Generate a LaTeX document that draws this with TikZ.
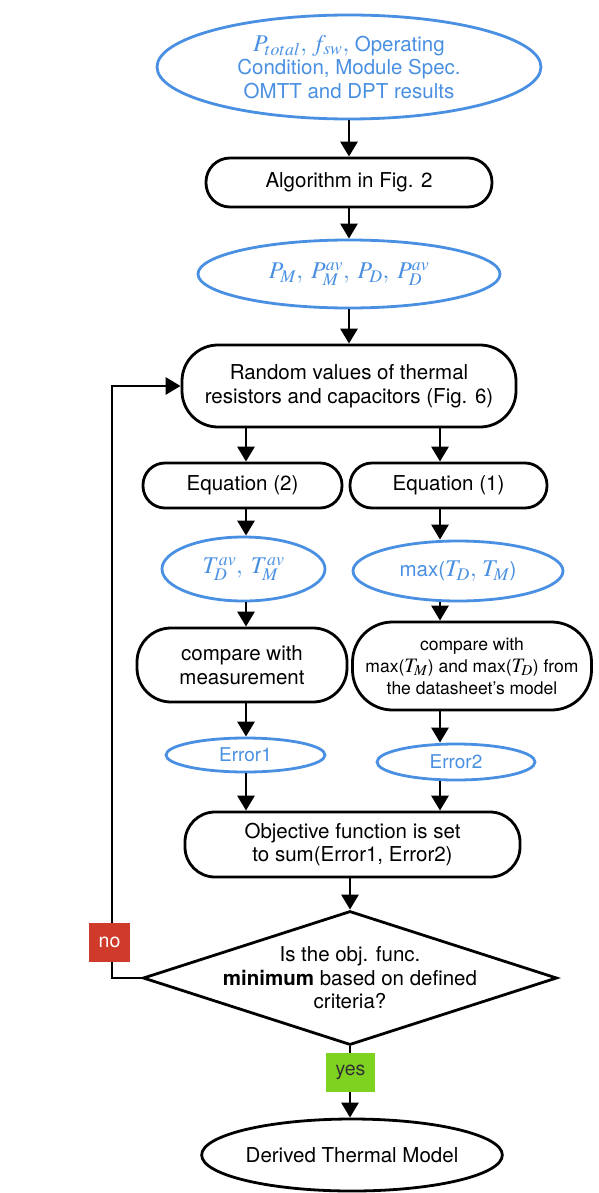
\documentclass[tikz,border=0pt]{standalone}
\usepackage{mathptmx}
\usepackage[no-math]{fontspec}
\setmainfont{TeX Gyre Heros}
\usetikzlibrary{shapes.geometric,arrows.meta}
\definecolor{flowblue}{RGB}{74,144,226}
\definecolor{noRed}{RGB}{208,58,42}
\definecolor{yesGreen}{RGB}{126,211,33}
\newcommand{\bigmath}[2][24]{{\fontsize{#1}{#1}\selectfont$#2$}}

\begin{document}
\begin{tikzpicture}[x=1pt,y=-1pt,line width=2.8pt,
  font=\fontsize{20.5}{23.5}\selectfont,
  io/.style={ellipse,draw=flowblue,text=flowblue,inner sep=0pt,align=center},
  proc/.style={draw,rounded corners=#1,inner sep=0pt,align=center},
  arr/.style={-{Triangle[length=15pt,width=17pt]}},
  tag/.style={inner sep=0pt,minimum height=39pt,font=\fontsize{19.5}{22}\selectfont}]
\useasboundingbox (0,0) rectangle (598,1193);

% inputs and first steps
\node[io,minimum width=384pt,minimum height=104pt] (inp) at (349,67)
  {\bigmath{P_{total},\, f_{sw},} Operating\\Condition, Module Spec.\\OMTT and DPT results};
\node[proc=24pt,minimum width=286pt,minimum height=49pt] (alg) at (349,182.5) {Algorithm in Fig. 2};
\node[io,minimum width=302pt,minimum height=68pt] (pow) at (349,274)
  {\bigmath{P_M,\; P_M^{av},\; P_D,\; P_D^{av}}};
\node[proc=36pt,minimum width=334pt,minimum height=82pt] (rand) at (349,386)
  {Random values of thermal\\resistors and capacitors (Fig. 6)};

% two branches
\node[proc=22pt,minimum width=199pt,minimum height=45pt] (eq2) at (242.5,485.5) {Equation (2)};
\node[proc=22pt,minimum width=197pt,minimum height=45pt] (eq1) at (448.5,485.5) {Equation (1)};
\node[io,minimum width=163pt,minimum height=64pt] (tav) at (243.5,569) {\bigmath{T_D^{av},\; T_M^{av}}};
\node[io,minimum width=210pt,minimum height=60pt] (tmax) at (458,571) {max(\bigmath{T_D,\, T_M})};
\node[proc=34pt,minimum width=210pt,minimum height=74pt] (cmp2) at (242,665) {compare with\\measurement};
\node[proc=40pt,minimum width=239pt,minimum height=88pt,font=\fontsize{17.5}{22}\selectfont] (cmp1) at (472,666)
  {compare with\\max(\bigmath[20.5]{T_M}) and max(\bigmath[20.5]{T_D}) from\\the datasheet's model};
\node[io,minimum width=159pt,minimum height=34pt,font=\fontsize{19}{22}\selectfont] (err1) at (245.5,755) {Error1};
\node[io,minimum width=158pt,minimum height=36pt,font=\fontsize{19}{22}\selectfont] (err2) at (456,762) {Error2};

% decision
\node[proc=30pt,minimum width=335pt,minimum height=65pt] (obj) at (352.5,844.5)
  {Objective function is set\\to sum(Error1, Error2)};
\node[diamond,draw,minimum width=414pt,minimum height=134pt,inner sep=0pt] (dec) at (350,978) {};
\node[align=center] (dectxt) at (dec.center) {Is the obj. func.\\\textbf{minimum} based on defined\\criteria?};
\node[ellipse,draw,minimum width=300pt,minimum height=72pt,inner sep=0pt] (out) at (352,1155) {Derived Thermal Model};

\coordinate (lx) at (246,0);
\coordinate (rx) at (440,0);
\coordinate (fb) at (112,0);

\foreach \a/\b in {inp/alg,alg/pow,pow/rand}
  \draw[arr] (\a.south) -- (\a.south |- \b.north);
\foreach \a/\b in {rand/eq2,eq2/tav,tav/cmp2,cmp2/err1,err1/obj}
  \draw[arr] (lx |- \a.south) -- (lx |- \b.north);
\foreach \a/\b in {rand/eq1,eq1/tmax,tmax/cmp1,cmp1/err2,err2/obj}
  \draw[arr] (rx |- \a.south) -- (rx |- \b.north);
\draw[arr] (dec.north |- obj.south) -- (dec.north);
\draw[arr] (dec.south) -- (dec.south |- out.north);
\draw[arr] (dec.west) -- (fb |- dec.west) -- (fb |- rand.west) -- (rand.west);

\node[tag,fill=noRed,text=white,minimum width=41pt] (no) at (109.5,942.5) {no};
\node[tag,fill=yesGreen,text=black!80,minimum width=49pt] (yes) at (350.5,1072.5) {yes};
\end{tikzpicture}
\end{document}
